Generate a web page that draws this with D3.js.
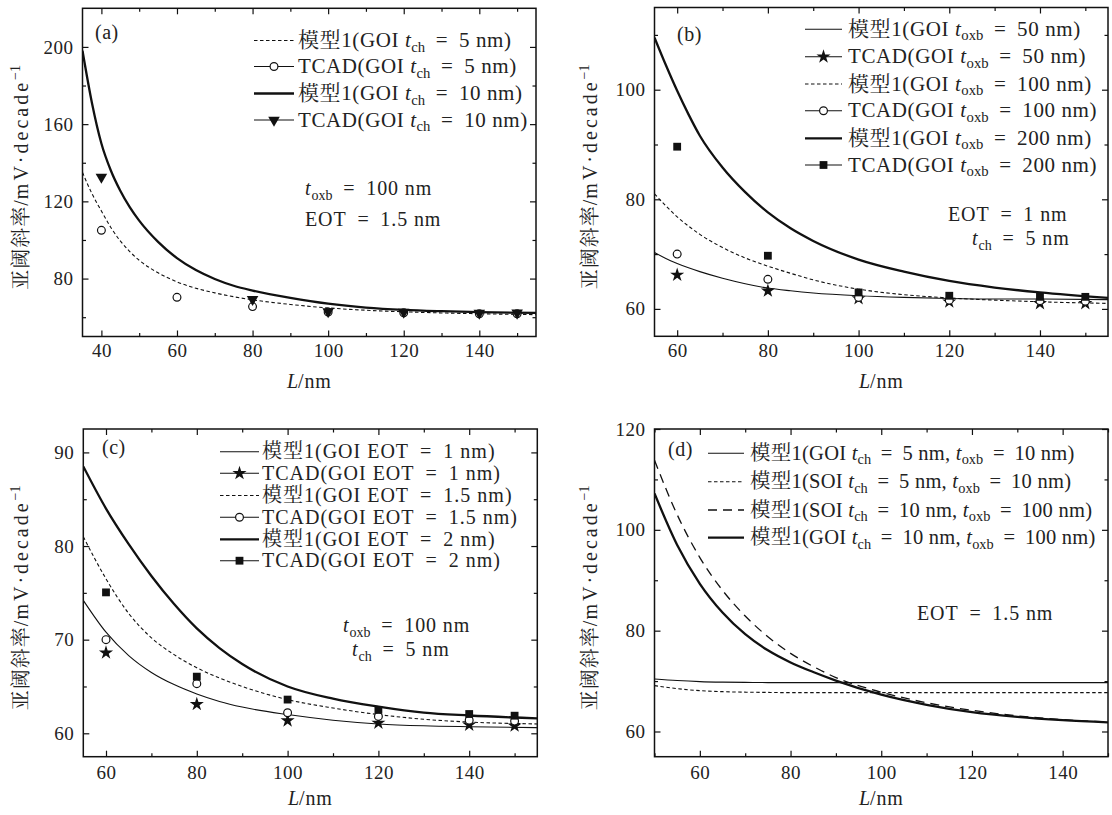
<!DOCTYPE html>
<html>
<head>
<meta charset="utf-8">
<script src="https://cdn.jsdelivr.net/npm/d3@7"></script>
<style>
  body { margin: 0; background: #fff; }
  svg text { fill: #222; }
</style>
</head>
<body>
<svg id="fig" width="1112" height="815"></svg>
<script>
// ---- panel (a): GOI, t_oxb = 100 nm, EOT = 1.5 nm
const aModelL = [35, 37.5, 40, 42.5, 45, 47.5, 50, 55, 60, 65, 70, 75, 80, 90, 100, 110, 120, 130, 140, 155];
const aModelCh5 = [135, 124, 115, 106.5, 99.5, 94, 89.5, 83, 78.3, 75, 72.6, 70.6, 69, 66.6, 64.8, 63.6, 62.8, 62.2, 61.8, 61.3];
const aModelCh10 = [198, 171, 150, 136, 125.5, 117, 110, 99, 90.6, 84.4, 79.8, 76.3, 73.8, 70, 67, 65, 63.8, 63.1, 62.6, 62.2];
const aTcadL = [40, 60, 80, 100, 120, 140, 150];
const aTcadCh5 = [105, 70.3, 65.5, 62.7, 62.3, 61.8, 61.8];
const aTcadL10 = [40, 80, 100, 120, 140, 150];
const aTcadCh10 = [132.6, 69.2, 62.9, 62.6, 62.1, 62.2];

// ---- panel (b): GOI, EOT = 1 nm, t_ch = 5 nm
const bModelL = [55, 57.5, 60, 62.5, 65, 70, 75, 80, 85, 90, 100, 110, 120, 130, 140, 155];
const bModel50 = [70.3, 69.2, 68.3, 67.5, 66.8, 65.6, 64.6, 63.8, 63.3, 62.9, 62.4, 62.1, 61.9, 61.8, 61.8, 61.7];
const bModel100 = [81, 78.8, 76.8, 75.1, 73.6, 71.2, 69.3, 67.8, 66.5, 65.3, 63.6, 62.6, 62, 61.6, 61.3, 61];
const bModel200 = [109.5, 104.5, 99.8, 95.5, 91.6, 85.8, 81.3, 77.6, 74.7, 72.4, 69, 66.8, 65.1, 63.9, 63, 62];
const bTcadL = [60, 80, 100, 120, 140, 150];
const bTcad50 = [66.2, 63.3, 61.9, 61.3, 61, 61];
const bTcad100 = [70, 65.4, 62.1, 61.6, 61.5, 61.4];
const bTcad200 = [89.6, 69.7, 63, 62.4, 62.2, 62.2];

// ---- panel (c): GOI, t_oxb = 100 nm, t_ch = 5 nm
const cModelL = [55, 60, 65, 70, 75, 80, 85, 90, 100, 110, 120, 130, 140, 155];
const cModelEot1 = [74.2, 70.8, 68.3, 66.5, 65.2, 64.2, 63.4, 62.8, 62, 61.4, 61, 60.8, 60.7, 60.6];
const cModelEot15 = [81, 76.5, 72.8, 70.2, 68.4, 67, 65.9, 65, 63.6, 62.7, 62, 61.5, 61.2, 61];
const cModelEot2 = [88.5, 84, 80.2, 76.8, 73.8, 71.2, 69.1, 67.4, 65, 63.7, 62.85, 62.2, 61.9, 61.6];
const cTcadL = [60, 80, 100, 120, 140, 150];
const cTcadEot1 = [68.6, 63.1, 61.35, 61.1, 60.9, 60.8];
const cTcadEot15 = [70, 65.3, 62.2, 61.8, 61.4, 61.3];
const cTcadEot2 = [75.05, 66.05, 63.6, 62.5, 62.06, 61.88];

// ---- panel (d): EOT = 1.5 nm
const dModelL = [50, 55, 60, 65, 70, 75, 80, 85, 90, 100, 110, 120, 130, 140, 150];
const dGoiCh5 = [70.4, 70.1, 69.9, 69.8, 69.75, 69.7, 69.7, 69.7, 69.7, 69.7, 69.7, 69.7, 69.7, 69.7, 69.7];
const dSoiCh5 = [69.1, 68.5, 68.1, 67.9, 67.8, 67.75, 67.7, 67.7, 67.7, 67.7, 67.7, 67.7, 67.7, 67.7, 67.7];
const dSoiCh10 = [113.8, 103, 94.5, 88, 82.9, 78.8, 75.5, 72.9, 70.7, 67.8, 65.7, 64.2, 63.1, 62.35, 61.9];
const dGoiCh10 = [107.2, 97, 89.3, 83.6, 79.3, 76.1, 73.7, 71.8, 70.1, 67.3, 65.3, 63.85, 62.9, 62.25, 61.8];

const FONT = '"Liberation Serif", "Times New Roman", "Noto Serif CJK SC", "Noto Sans CJK SC", serif';
const svg = d3.select('#fig');

const styles = {
    thin:  { w: 1.1, dash: null },
    thick: { w: 2.3, dash: null },
    dash:  { w: 1.1, dash: '3.5,2.5' },
    long:  { w: 1.3, dash: '9,6' }
};

const panels = [
    {
        tag: '(a)', box: [82.5, 536, 8.3, 336.5], xd: [35, 155], yd: [50, 220],
        xMajor: [40, 60, 80, 100, 120, 140], xMinor: [50, 70, 90, 110, 130, 150],
        yMajor: [80, 120, 160, 200], yMinor: [60, 100, 140, 180],
        tagPos: [95, 39], tickGap: 7, xlabY: 388,
        lines: [
            { L: aModelL, v: aModelCh5, st: 'dash' },
            { L: aModelL, v: aModelCh10, st: 'thick' }
        ],
        points: [
            { L: aTcadL, v: aTcadCh5, m: 'circle' },
            { L: aTcadL10, v: aTcadCh10, m: 'tri' }
        ],
        legend: { x0: 254, x1: 294, tx: 298, rows: [40.5, 66.5, 93.5, 120], size: 21, ls: 0.6 },
        legendItems: [
            { st: 'dash', text: '模型1(GOI $t_ch$ = 5 nm)' },
            { st: 'thin', m: 'circle', text: 'TCAD(GOI $t_ch$ = 5 nm)' },
            { st: 'thick', text: '模型1(GOI $t_ch$ = 10 nm)' },
            { st: 'thin', m: 'tri', text: 'TCAD(GOI $t_ch$ = 10 nm)' }
        ],
        notes: [[305, 195, '$t_oxb$ = 100 nm'], [305, 226, 'EOT = 1.5 nm']]
    },
    {
        tag: '(b)', box: [654.5, 1108, 7.5, 336.3], xd: [55, 155], yd: [55, 115],
        xMajor: [60, 80, 100, 120, 140], xMinor: [70, 90, 110, 130, 150],
        yMajor: [60, 80, 100], yMinor: [70, 90, 110],
        tagPos: [677, 41], tickGap: 7, xlabY: 388,
        lines: [
            { L: bModelL, v: bModel50, st: 'thin' },
            { L: bModelL, v: bModel100, st: 'dash' },
            { L: bModelL, v: bModel200, st: 'thick' }
        ],
        points: [
            { L: bTcadL, v: bTcad50, m: 'star' },
            { L: bTcadL, v: bTcad100, m: 'circle' },
            { L: bTcadL, v: bTcad200, m: 'square' }
        ],
        legend: { x0: 805, x1: 842, tx: 848, rows: [29.3, 56.7, 84, 110.7, 138.3, 165], size: 21, ls: 0.6 },
        legendItems: [
            { st: 'thin', text: '模型1(GOI $t_oxb$ = 50 nm)' },
            { st: 'thin', m: 'star', text: 'TCAD(GOI $t_oxb$ = 50 nm)' },
            { st: 'dash', text: '模型1(GOI $t_oxb$ = 100 nm)' },
            { st: 'thin', m: 'circle', text: 'TCAD(GOI $t_oxb$ = 100 nm)' },
            { st: 'thick', text: '模型1(GOI $t_oxb$ = 200 nm)' },
            { st: 'thin', m: 'square', text: 'TCAD(GOI $t_oxb$ = 200 nm)' }
        ],
        notes: [[948, 221, 'EOT = 1 nm'], [972, 245, '$t_ch$ = 5 nm']]
    },
    {
        tag: '(c)', box: [83.3, 537.3, 429, 756.7], xd: [55, 155], yd: [57.5, 92.5],
        xMajor: [60, 80, 100, 120, 140], xMinor: [70, 90, 110, 130, 150],
        yMajor: [60, 70, 80, 90], yMinor: [65, 75, 85],
        tagPos: [102, 454], tickGap: 9, xlabY: 805,
        lines: [
            { L: cModelL, v: cModelEot1, st: 'thin' },
            { L: cModelL, v: cModelEot15, st: 'dash' },
            { L: cModelL, v: cModelEot2, st: 'thick' }
        ],
        points: [
            { L: cTcadL, v: cTcadEot1, m: 'star' },
            { L: cTcadL, v: cTcadEot15, m: 'circle' },
            { L: cTcadL, v: cTcadEot2, m: 'square' }
        ],
        legend: { x0: 220, x1: 259, tx: 262, rows: [451.7, 473.3, 495.5, 517.3, 539.3, 560.7], size: 20, ls: 1.0 },
        legendItems: [
            { st: 'thin', text: '模型1(GOI EOT = 1 nm)' },
            { st: 'thin', m: 'star', text: 'TCAD(GOI EOT = 1 nm)' },
            { st: 'dash', text: '模型1(GOI EOT = 1.5 nm)' },
            { st: 'thin', m: 'circle', text: 'TCAD(GOI EOT = 1.5 nm)' },
            { st: 'thick', text: '模型1(GOI EOT = 2 nm)' },
            { st: 'thin', m: 'square', text: 'TCAD(GOI EOT = 2 nm)' }
        ],
        notes: [[343, 632, '$t_oxb$ = 100 nm'], [352, 656, '$t_ch$ = 5 nm']]
    },
    {
        tag: '(d)', box: [654.5, 1108, 429, 756.7], xd: [50, 150], yd: [55, 120],
        xMajor: [60, 80, 100, 120, 140], xMinor: [50, 70, 90, 110, 130, 150],
        yMajor: [60, 80, 100, 120], yMinor: [70, 90, 110],
        tagPos: [668, 456], tickGap: 9, xlabY: 805,
        lines: [
            { L: dModelL, v: dGoiCh5, st: 'thin' },
            { L: dModelL, v: dSoiCh5, st: 'dash' },
            { L: dModelL, v: dSoiCh10, st: 'long' },
            { L: dModelL, v: dGoiCh10, st: 'thick' }
        ],
        points: [],
        legend: { x0: 708, x1: 744, tx: 750, rows: [453.3, 481.7, 510, 537.7], size: 20.5, ls: 0.25 },
        legendItems: [
            { st: 'thin', text: '模型1(GOI $t_ch$ = 5 nm, $t_oxb$ = 10 nm)' },
            { st: 'dash', text: '模型1(SOI $t_ch$ = 5 nm, $t_oxb$ = 10 nm)' },
            { st: 'long', text: '模型1(SOI $t_ch$ = 10 nm, $t_oxb$ = 100 nm)' },
            { st: 'thick', text: '模型1(GOI $t_ch$ = 10 nm, $t_oxb$ = 100 nm)' }
        ],
        notes: [[917, 620, 'EOT = 1.5 nm']]
    }
];

// text with italic t and roman subscripts, written as $t_xx$
function richText(g, x, y, str, size, ls) {
    const t = g.append('text').attr('x', x).attr('y', y)
        .attr('font-family', FONT).attr('font-size', size).attr('letter-spacing', ls);
    let pendingDy = 0;
    str.split(/(\$t_[a-z]+\$)/).forEach(part => {
        if (!part) return;
        const m = part.match(/^\$t_([a-z]+)\$$/);
        if (m) {
            t.append('tspan').attr('dy', pendingDy).attr('font-style', 'italic').text('t');
            t.append('tspan').attr('dy', 4.5).attr('font-size', size * 0.7).attr('letter-spacing', 0).text(m[1]);
            pendingDy = -4.5;
        } else {
            t.append('tspan').attr('dy', pendingDy).attr('xml:space', 'preserve').text(part.replace(/ = /g, '\u2009 = \u2009'));
            pendingDy = 0;
        }
    });
    return t;
}

function marker(g, type, x, y) {
    if (type === 'circle') {
        g.append('circle').attr('cx', x).attr('cy', y).attr('r', 3.9)
            .attr('fill', '#fff').attr('stroke', '#111').attr('stroke-width', 1.2);
    } else if (type === 'square') {
        g.append('rect').attr('x', x - 3.9).attr('y', y - 3.9).attr('width', 7.8).attr('height', 7.8).attr('fill', '#111');
    } else if (type === 'star') {
        g.append('path').attr('d', d3.symbol(d3.symbolStar, 62)()).attr('transform', `translate(${x},${y})`).attr('fill', '#111');
    } else if (type === 'tri') {
        g.append('path').attr('d', d3.symbol(d3.symbolTriangle, 58)()).attr('transform', `translate(${x},${y}) rotate(180)`).attr('fill', '#111');
    }
}

function styleLine(sel, st) {
    const s = styles[st];
    sel.attr('fill', 'none').attr('stroke', '#111').attr('stroke-width', s.w);
    if (s.dash) sel.attr('stroke-dasharray', s.dash);
    return sel;
}

panels.forEach((p, i) => {
    const [x0, x1, y0, y1] = p.box;
    const x = d3.scaleLinear().domain(p.xd).range([x0, x1]);
    const y = d3.scaleLinear().domain(p.yd).range([y1, y0]);
    const g = svg.append('g').attr('class', 'panel');

    const clipId = 'clip' + i;
    svg.append('clipPath').attr('id', clipId).append('rect')
        .attr('x', x0).attr('y', y0).attr('width', x1 - x0).attr('height', y1 - y0);

    // curves
    const plot = g.append('g').attr('clip-path', `url(#${clipId})`);
    p.lines.forEach(s => {
        const line = d3.line().x(d => x(d[0])).y(d => y(d[1])).curve(d3.curveMonotoneX);
        styleLine(plot.append('path').attr('d', line(d3.zip(s.L, s.v))), s.st);
    });
    p.points.forEach(s => {
        d3.zip(s.L, s.v).forEach(d => marker(plot, s.m, x(d[0]), y(d[1])));
    });

    // axes with inward ticks on four sides
    const addAxis = (axis, tr, labels) => {
        const ax = g.append('g').attr('transform', tr).call(axis);
        ax.select('.domain').remove();
        ax.selectAll('line').attr('stroke', '#111').attr('stroke-width', 1.2);
        ax.selectAll('text').attr('font-family', FONT).attr('font-size', 19).attr('fill', '#222').attr('letter-spacing', 0.5);
        if (!labels) ax.selectAll('text').remove();
        return ax;
    };
    addAxis(d3.axisBottom(x).tickValues(p.xMajor).tickSize(-6).tickSizeOuter(0).tickPadding(p.tickGap), `translate(0,${y1})`, true);
    addAxis(d3.axisBottom(x).tickValues(p.xMinor).tickSize(-3.5).tickSizeOuter(0), `translate(0,${y1})`, false);
    addAxis(d3.axisTop(x).tickValues(p.xMajor).tickSize(-6).tickSizeOuter(0), `translate(0,${y0})`, false);
    addAxis(d3.axisTop(x).tickValues(p.xMinor).tickSize(-3.5).tickSizeOuter(0), `translate(0,${y0})`, false);
    addAxis(d3.axisLeft(y).tickValues(p.yMajor).tickSize(-6).tickSizeOuter(0).tickPadding(9), `translate(${x0},0)`, true);
    addAxis(d3.axisLeft(y).tickValues(p.yMinor).tickSize(-3.5).tickSizeOuter(0), `translate(${x0},0)`, false);
    addAxis(d3.axisRight(y).tickValues(p.yMajor).tickSize(-6).tickSizeOuter(0), `translate(${x1},0)`, false);
    addAxis(d3.axisRight(y).tickValues(p.yMinor).tickSize(-3.5).tickSizeOuter(0), `translate(${x1},0)`, false);

    g.append('rect').attr('x', x0).attr('y', y0).attr('width', x1 - x0).attr('height', y1 - y0)
        .attr('fill', 'none').attr('stroke', '#111').attr('stroke-width', 1.5);

    // axis titles
    const xl = g.append('text').attr('x', (x0 + x1) / 2).attr('y', p.xlabY).attr('text-anchor', 'middle')
        .attr('font-family', FONT).attr('font-size', 20);
    xl.append('tspan').attr('font-style', 'italic').text('L');
    xl.append('tspan').attr('letter-spacing', 0.8).text('/nm');

    const ylx = i % 2 === 0 ? 21 : 590;
    const ylc = (y0 + y1) / 2 + 5;
    const yl = g.append('text').attr('transform', `translate(${ylx},${ylc}) rotate(-90)`)
        .attr('text-anchor', 'middle').attr('dy', '0.35em')
        .attr('font-family', FONT).attr('font-size', 20);
    yl.append('tspan').attr('letter-spacing', 1).text('亚阈斜率/');
    yl.append('tspan').attr('letter-spacing', 3).text('mV·decade');
    yl.append('tspan').attr('dy', -8).attr('font-size', 14).text('−1');

    // panel tag and notes
    g.append('text').attr('x', p.tagPos[0]).attr('y', p.tagPos[1])
        .attr('font-family', FONT).attr('font-size', 20).attr('letter-spacing', 0.5).text(p.tag);
    p.notes.forEach(n => richText(g, n[0], n[1], n[2], 20, 0.9));

    // legend
    const lg = g.append('g');
    p.legendItems.forEach((it, k) => {
        const ry = p.legend.rows[k];
        styleLine(lg.append('line').attr('x1', p.legend.x0).attr('x2', p.legend.x1).attr('y1', ry).attr('y2', ry), it.st);
        if (it.m) marker(lg, it.m, (p.legend.x0 + p.legend.x1) / 2, ry);
        richText(lg, p.legend.tx, ry + 6.5, it.text, p.legend.size, p.legend.ls);
    });
});
</script>
</body>
</html>
